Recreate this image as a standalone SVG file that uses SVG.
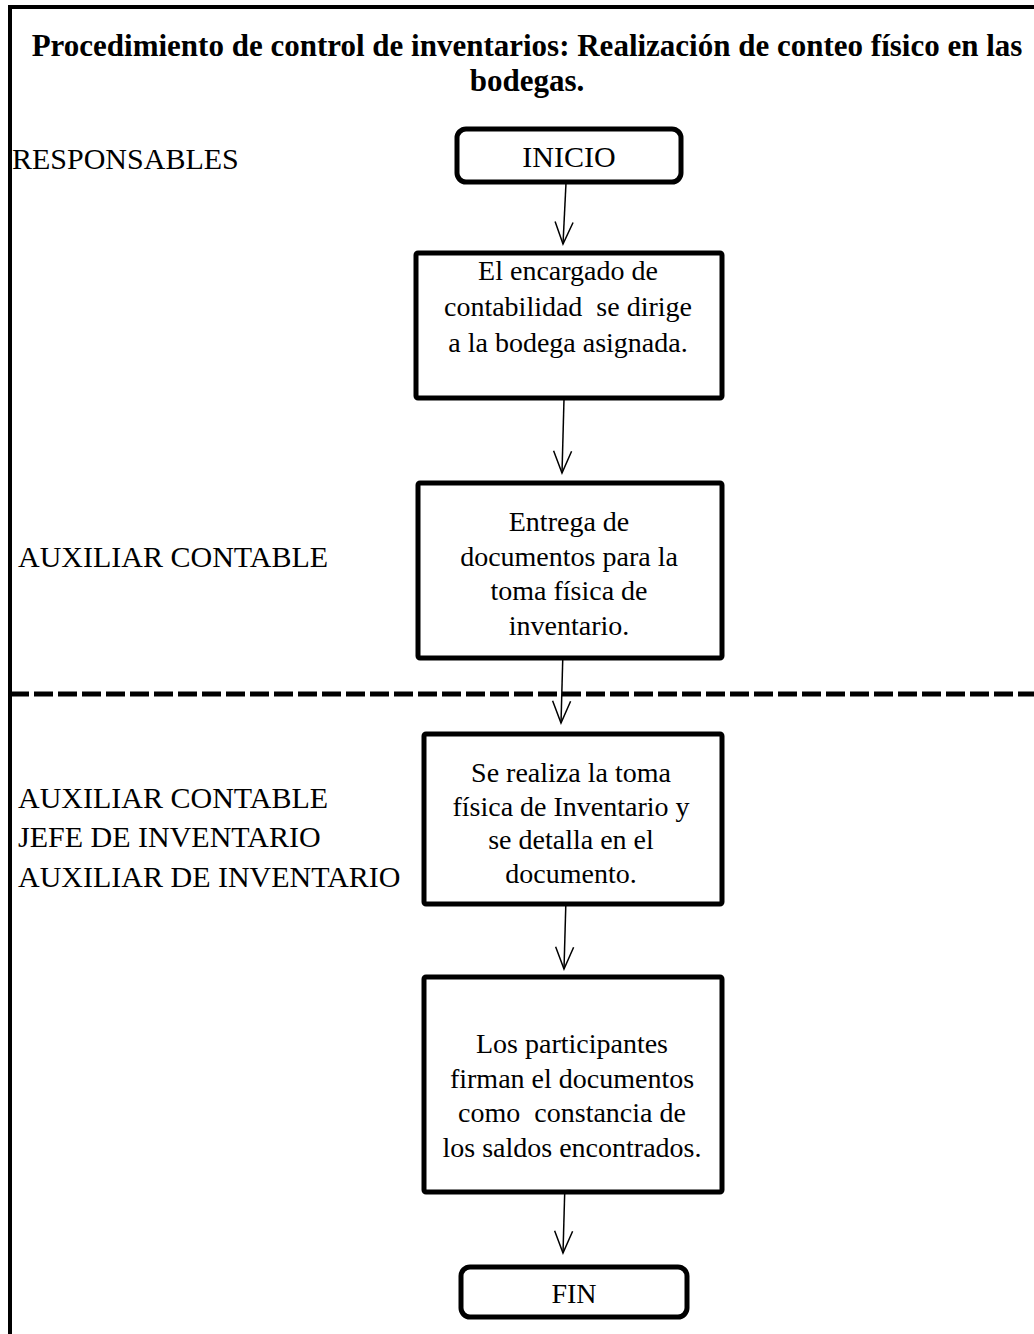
<svg xmlns="http://www.w3.org/2000/svg" width="1034" height="1334" viewBox="0 0 1034 1334">
<style>
.t{font-family:"Liberation Serif","Times New Roman",serif;fill:#000}
.title{font-size:31px;font-weight:bold;text-anchor:middle}
.lbl{font-size:30px}
.bx{font-size:28px;text-anchor:middle}
.box{fill:#fff;stroke:#000;stroke-width:5}
.conn{stroke:#000;stroke-width:1.5;fill:none}
</style>
<defs>
<marker id="ah" markerUnits="userSpaceOnUse" orient="auto" overflow="visible" refX="0" refY="0" markerWidth="30" markerHeight="30">
<path d="M-22,-9 L0,0 L-22,9" fill="none" stroke="#000" stroke-width="1.5"/>
</marker>
</defs>
<rect width="1034" height="1334" fill="#fff"/>
<g id="frame">
<line x1="10" y1="7" x2="1034" y2="7" stroke="#000" stroke-width="4"/>
<line x1="10" y1="5" x2="10" y2="1334" stroke="#000" stroke-width="4"/>
<line x1="10" y1="694" x2="1034" y2="694" stroke="#000" stroke-width="5" stroke-dasharray="19 5"/>
</g>
<g id="title">
<text class="t title" x="527" y="56">Procedimiento de control de inventarios: Realización de conteo físico en las</text>
<text class="t title" x="527" y="91">bodegas.</text>
</g>
<g id="lanes">
<text class="t lbl" x="12" y="169">RESPONSABLES</text>
<text class="t lbl" x="18" y="567">AUXILIAR CONTABLE</text>
<text class="t lbl" x="18" y="808">AUXILIAR CONTABLE</text>
<text class="t lbl" x="18" y="847">JEFE DE INVENTARIO</text>
<text class="t lbl" x="18" y="887">AUXILIAR DE INVENTARIO</text>
</g>
<g id="connectors">
<line class="conn" x1="566" y1="183" x2="563" y2="244" marker-end="url(#ah)"/>
<line class="conn" x1="564" y1="399" x2="562" y2="473" marker-end="url(#ah)"/>
<line class="conn" x1="563" y1="650" x2="561" y2="723" marker-end="url(#ah)"/>
<line class="conn" x1="566" y1="898" x2="564" y2="969" marker-end="url(#ah)"/>
<line class="conn" x1="565" y1="1182" x2="563" y2="1253" marker-end="url(#ah)"/>
</g>
<g id="inicio">
<rect class="box" x="457" y="129" width="224" height="53" rx="9"/>
<text class="t bx" x="569" y="167" style="font-size:30px">INICIO</text>
</g>
<g id="paso1">
<rect class="box" x="416" y="253" width="306" height="145" rx="2"/>
<text class="t bx" x="568" y="280">El encargado de</text>
<text class="t bx" x="568" y="316" xml:space="preserve">contabilidad  se dirige</text>
<text class="t bx" x="568" y="352">a la bodega asignada.</text>
</g>
<g id="paso2">
<rect class="box" x="418" y="483" width="304" height="175" rx="2"/>
<text class="t bx" x="569" y="531">Entrega de</text>
<text class="t bx" x="569" y="566">documentos para la</text>
<text class="t bx" x="569" y="600">toma física de</text>
<text class="t bx" x="569" y="635">inventario.</text>
</g>
<g id="paso3">
<rect class="box" x="424" y="734" width="298" height="170" rx="2"/>
<text class="t bx" x="571" y="782">Se realiza la toma</text>
<text class="t bx" x="571" y="816">física de Inventario y</text>
<text class="t bx" x="571" y="849">se detalla en el</text>
<text class="t bx" x="571" y="883">documento.</text>
</g>
<g id="paso4">
<rect class="box" x="424" y="977" width="298" height="215" rx="2"/>
<text class="t bx" x="572" y="1053">Los participantes</text>
<text class="t bx" x="572" y="1088">firman el documentos</text>
<text class="t bx" x="572" y="1122" xml:space="preserve">como  constancia de</text>
<text class="t bx" x="572" y="1157">los saldos encontrados.</text>
</g>
<g id="fin">
<rect class="box" x="461" y="1267" width="226" height="50" rx="9"/>
<text class="t bx" x="574" y="1303">FIN</text>
</g>
</svg>
